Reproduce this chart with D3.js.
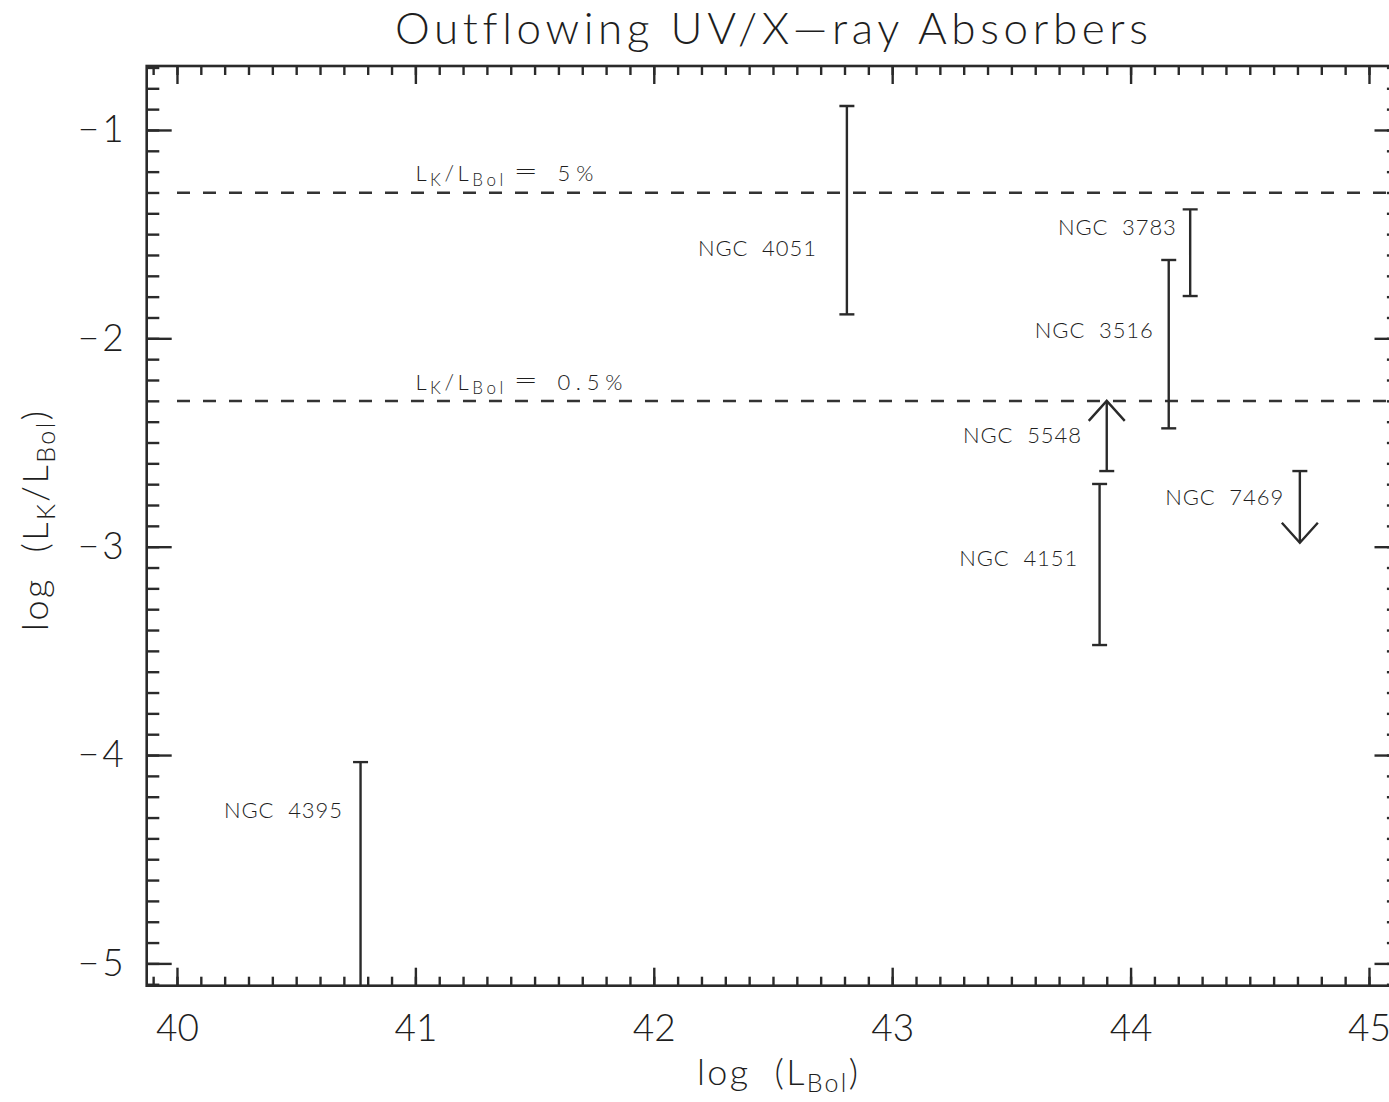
<!DOCTYPE html>
<html>
<head>
<meta charset="utf-8">
<script src="https://cdn.jsdelivr.net/npm/d3@7"></script>
<style>
  html, body { margin: 0; padding: 0; background: #fff; }
  svg { display: block; }
  text { font-family: Lato, "DejaVu Sans", sans-serif; font-weight: 300; fill: #1e1e1e;
         font-variant-ligatures: none; font-feature-settings: "liga" 0, "clig" 0; }
</style>
</head>
<body>
<svg id="chart" width="1389" height="1102"></svg>
<script>
// Outflowing absorbers: kinetic luminosity fraction vs bolometric luminosity
const names     = ["NGC 4051", "NGC 3783", "NGC 3516", "NGC 5548", "NGC 4151", "NGC 7469", "NGC 4395"];
const logLbol   = [42.81, 44.25, 44.16, 43.90, 43.87, 44.71, 40.77];
const lowVals   = [-1.885, -1.797, -2.432, -2.637, -3.472, -2.981, -5.30];
const highVals  = [-0.885, -1.381, -1.624, -2.300, -2.699, -2.637, -4.034];
// "range" = two-sided bar, "lower" = lower limit (arrow up), "upper" = upper limit (arrow down)
const limitType = ["range", "range", "range", "lower", "range", "upper", "range"];

// Label anchors (data units): right end of each name, and its baseline
const labelEndX = [42.680, 44.190, 44.093, 43.792, 43.776, 44.640, 40.692];
const labelY    = [-1.603, -1.504, -2.000, -2.501, -3.093, -2.800, -4.303];

// Reference ratios L_K / L_Bol (percent)
const ratioPct    = [5, 0.5];
const ratioLabels = ["5%", "0.5%"];

const xMajor = [40, 41, 42, 43, 44, 45];
const yMajor = [-1, -2, -3, -4, -5];

(function draw() {
  const svg = d3.select("#chart");
  const pL = 146.7, pR = 1399.5, pT = 66, pB = 985.7;

  const x = d3.scaleLinear().domain([39.873, 45.128]).range([pL, pR]);
  const y = d3.scaleLinear().domain([-5.107, -0.693]).range([pB, pT]);

  const ink = "#2a2a2a";
  const fmt = d => (d < 0 ? "\u2212" + Math.abs(d) : String(d));

  // minor tick positions every 0.1
  const xMinor = d3.range(399, 452).map(v => v / 10).filter(v => v > 39.873 && v < 45.128);
  const yMinor = d3.range(-51, -6).map(v => v / 10).filter(v => v > -5.107 && v < -0.693);

  function styleAxis(g) {
    g.select(".domain").remove();
    g.selectAll(".tick line").attr("stroke", ink).attr("stroke-width", 2.4);
  }

  // bottom
  svg.append("g").attr("transform", `translate(0,${pB})`)
    .call(d3.axisBottom(x).tickValues(xMinor).tickSize(-9).tickFormat("")).call(styleAxis);
  const xb = svg.append("g").attr("transform", `translate(0,${pB})`)
    .call(d3.axisBottom(x).tickValues(xMajor).tickSize(-18).tickPadding(29).tickFormat(fmt)).call(styleAxis);
  xb.selectAll(".tick text").attr("font-size", 37).attr("fill", "#1e1e1e").attr("font-family", null);

  // top
  svg.append("g").attr("transform", `translate(0,${pT})`)
    .call(d3.axisTop(x).tickValues(xMinor).tickSize(-9).tickFormat("")).call(styleAxis);
  svg.append("g").attr("transform", `translate(0,${pT})`)
    .call(d3.axisTop(x).tickValues(xMajor).tickSize(-18).tickFormat("")).call(styleAxis);

  // left
  svg.append("g").attr("transform", `translate(${pL},0)`)
    .call(d3.axisLeft(y).tickValues(yMinor).tickSize(-12.6).tickFormat("")).call(styleAxis);
  const yl = svg.append("g").attr("transform", `translate(${pL},0)`)
    .call(d3.axisLeft(y).tickValues(yMajor).tickSize(-25).tickPadding(20).tickFormat(fmt)).call(styleAxis);
  yl.selectAll(".tick text").attr("font-size", 37).attr("fill", "#1e1e1e").attr("font-family", null)
    .attr("letter-spacing", 3);

  // right
  svg.append("g").attr("transform", `translate(${pR},0)`)
    .call(d3.axisRight(y).tickValues(yMinor).tickSize(-12.6).tickFormat("")).call(styleAxis);
  svg.append("g").attr("transform", `translate(${pR},0)`)
    .call(d3.axisRight(y).tickValues(yMajor).tickSize(-25).tickFormat("")).call(styleAxis);

  // frame
  svg.append("rect")
    .attr("x", pL).attr("y", pT).attr("width", pR - pL).attr("height", pB - pT)
    .attr("fill", "none").attr("stroke", ink).attr("stroke-width", 2.6);

  // clip for data marks
  svg.append("clipPath").attr("id", "plotClip")
    .append("rect").attr("x", pL).attr("y", pT).attr("width", pR - pL).attr("height", pB - pT);
  const plot = svg.append("g").attr("clip-path", "url(#plotClip)");

  // dashed reference levels
  ratioPct.forEach(p => {
    const ly = y(Math.log10(p / 100));
    plot.append("line")
      .attr("x1", x(40)).attr("x2", pR).attr("y1", ly).attr("y2", ly)
      .attr("stroke", "#333").attr("stroke-width", 2.4).attr("stroke-dasharray", "13,13");
  });

  // reference labels  L_K / L_Bol = n%
  const valueWidth = [36, 65];
  ratioPct.forEach((p, i) => {
    const x0 = x(41.0), base = y(Math.log10(p / 100)) - 11.5;
    const t = svg.append("text")
      .attr("x", x0).attr("y", base)
      .attr("font-size", 22).attr("textLength", 88).attr("lengthAdjust", "spacing");
    t.append("tspan").text("L");
    t.append("tspan").attr("font-size", 17).attr("dy", 4.5).text("K");
    t.append("tspan").attr("dy", -4.5).text("/L");
    t.append("tspan").attr("font-size", 17).attr("dy", 4.5).text("Bol");
    svg.append("text").attr("x", x0 + 98).attr("y", base - 1)
      .attr("font-size", 26).attr("textLength", 25).attr("lengthAdjust", "spacingAndGlyphs")
      .text("=");
    svg.append("text").attr("x", x0 + 142).attr("y", base)
      .attr("font-size", 22).attr("textLength", valueWidth[i]).attr("lengthAdjust", "spacing")
      .text(ratioLabels[i]);
  });

  // error bars and limits
  const capHalf = 7.5;
  names.forEach((n, i) => {
    const cx = x(logLbol[i]);
    const yLo = y(lowVals[i]), yHi = y(highVals[i]);
    const g = plot.append("g").attr("stroke", ink).attr("stroke-width", 2.4).attr("fill", "none");
    g.append("line").attr("x1", cx).attr("x2", cx).attr("y1", yLo).attr("y2", yHi);
    if (limitType[i] === "range") {
      [yLo, yHi].forEach(yy => g.append("line")
        .attr("x1", cx - capHalf).attr("x2", cx + capHalf).attr("y1", yy).attr("y2", yy));
    } else if (limitType[i] === "lower") {
      g.append("line").attr("x1", cx - capHalf).attr("x2", cx + capHalf).attr("y1", yLo).attr("y2", yLo);
      g.append("path").attr("d", `M${cx - 18},${yHi + 20}L${cx},${yHi}L${cx + 18},${yHi + 20}`);
    } else {
      g.append("line").attr("x1", cx - capHalf).attr("x2", cx + capHalf).attr("y1", yHi).attr("y2", yHi);
      g.append("path").attr("d", `M${cx - 18},${yLo - 20}L${cx},${yLo}L${cx + 18},${yLo - 20}`);
    }
  });

  // object names
  names.forEach((n, i) => {
    const ex = x(labelEndX[i]);
    svg.append("text")
      .attr("x", ex - 118).attr("y", y(labelY[i]))
      .attr("font-size", 22).attr("font-weight", 400)
      .attr("textLength", 118).attr("lengthAdjust", "spacing")
      .style("white-space", "pre")
      .text(n.replace(" ", "  "));
  });

  // title
  svg.append("text")
    .attr("x", 395).attr("y", 44)
    .attr("font-size", 44).attr("textLength", 753).attr("lengthAdjust", "spacing")
    .text("Outflowing UV/X\u2014ray Absorbers");

  // x-axis title: log (L_Bol)
  const xt = svg.append("text")
    .attr("x", 697).attr("y", 1085)
    .attr("font-size", 36).attr("textLength", 161).attr("lengthAdjust", "spacing")
    .style("white-space", "pre");
  xt.append("tspan").text("log  (L");
  xt.append("tspan").attr("font-size", 25).attr("dy", 7).text("Bol");
  xt.append("tspan").attr("dy", -7).text(")");

  // y-axis title: log (L_K / L_Bol)
  const yt = svg.append("text")
    .attr("transform", "translate(48,631) rotate(-90)")
    .attr("font-size", 36).attr("textLength", 220).attr("lengthAdjust", "spacing")
    .style("white-space", "pre");
  yt.append("tspan").text("log  (L");
  yt.append("tspan").attr("font-size", 25).attr("dy", 7).text("K");
  yt.append("tspan").attr("dy", -7).text("/L");
  yt.append("tspan").attr("font-size", 25).attr("dy", 7).text("Bol");
  yt.append("tspan").attr("dy", -7).text(")");
})();
</script>
</body>
</html>
